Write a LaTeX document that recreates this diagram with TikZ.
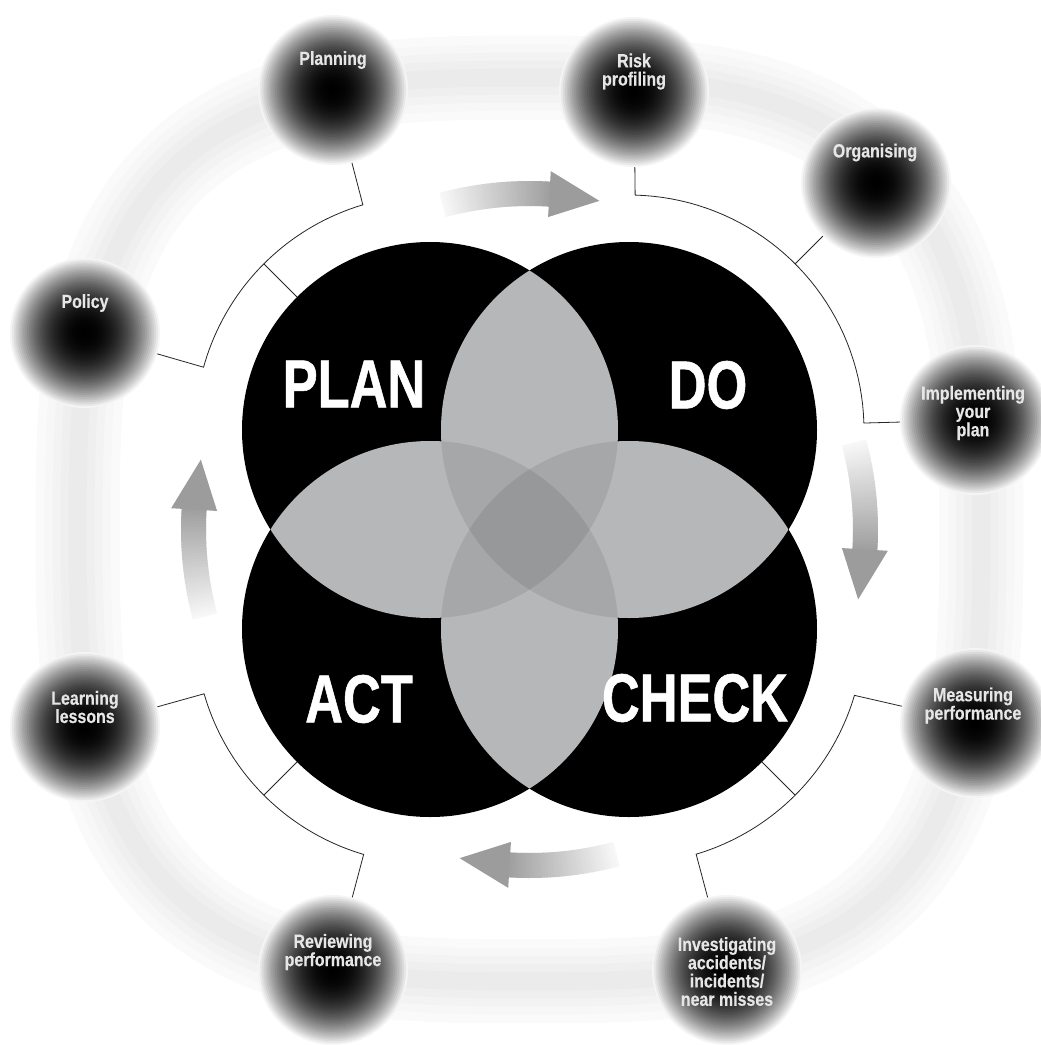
\documentclass[tikz,border=0pt]{standalone}
\usepackage{fontspec}
\usetikzlibrary{calc}
\newfontfamily\smallfont[FakeStretch=0.84,FakeBold=0.4]{Liberation Sans}
\newfontfamily\bigfont[FakeStretch=0.77,FakeBold=0.8]{Liberation Sans}
\definecolor{lensA}{HTML}{B6B7B9}
\definecolor{lensB}{HTML}{A6A7A9}
\definecolor{lensC}{HTML}{97989A}
\definecolor{arrowhd}{HTML}{9C9C9C}
\definecolor{labtxt}{HTML}{E6E6E6}
\newcommand\orbfill[1]{%
  \foreach \k in {40,39,...,1}{%
    \pgfmathsetmacro\orbr{75*\k/40}%
    \pgfmathsetmacro\orbd{100-96*pow(\k/40,2.2)}%
    \fill[black!\orbd] (#1) circle (\orbr);}}
\newcommand\cycarrow[1]{%
  \foreach \i in {0,...,36}{%
    \pgfmathsetmacro\arra{#1+\i*0.5}%
    \pgfmathsetmacro\arrb{#1+\i*0.5+0.65}%
    \pgfmathsetmacro\arrc{3+\i*0.95}%
    \draw[line width=25pt, black!\arrc] ($(cM)+(\arra:336)$) -- ($(cM)+(\arrb:336)$);}%
  \pgfmathsetmacro\arrh{#1+18.4}%
  \pgfmathsetmacro\arrt{#1+27}%
  \fill[arrowhd] ($(cM)+(\arrh:313)$) -- ($(cM)+(\arrt:336)$) -- ($(cM)+(\arrh:359)$) -- cycle;}
\begin{document}
\begin{tikzpicture}[x=1pt,y=-1pt,
  orbnode/.style={circle,minimum size=150pt,inner sep=0pt,draw=none},
  orblab/.style={text=labtxt,align=center,inner sep=0pt,
    font=\smallfont\bfseries\fontsize{19}{18.3}\selectfont},
  biglab/.style={text=white,inner sep=0pt,
    font=\bigfont\bfseries\fontsize{68}{68}\selectfont},
  conn/.style={draw=black!85,line width=0.8pt}]
\useasboundingbox (0,0) rectangle (1041,1045);
\fill[white] (0,0) rectangle (1041,1045);
\clip (0,0) rectangle (1041,1045);

% centres
\coordinate (cM) at (529.5,529.5);
\coordinate (cP) at (430,430);
\coordinate (cD) at (629,430);
\coordinate (cA) at (430,629);
\coordinate (cC) at (629,629);

% soft background band (superellipse)
\foreach \w/\c in {84/1.8,66/3.2,50/4.8,34/6.4,18/7.8}{
  \draw[line width=\w pt,black!\c] plot[domain=1.25:358.75,samples=144]
    ({529.5+452*cos(\x)/pow(abs(cos(\x)),1/3)},{529.5+452*sin(\x)/pow(abs(sin(\x)),1/3)}) -- cycle;
}

% spheres
\node[orbnode] (planning) at (333,90) {};
\node[orbnode] (risk) at (634,92) {};
\node[orbnode] (organising) at (876,183) {};
\node[orbnode] (implementing) at (975,420) {};
\node[orbnode] (measuring) at (975,723) {};
\node[orbnode] (investigating) at (727,970) {};
\node[orbnode] (reviewing) at (333,970) {};
\node[orbnode] (learning) at (85,727) {};
\node[orbnode] (policy) at (85,333) {};
\foreach \n in {planning,risk,organising,implementing,measuring,investigating,reviewing,learning,policy}{
  \orbfill{\n}
}

% sphere labels
\node[orblab] (planningT) at (333,60) {Planning};
\node[orblab] (riskT) at (634,71.5) {Risk\\profiling};
\node[orblab] (organisingT) at (875,152.5) {Organising};
\node[orblab] (implementingT) at (973,413) {Implementing\\your\\plan};
\node[orblab] (measuringT) at (973,705.5) {Measuring\\performance};
\node[orblab] (investigatingT) at (727,971.5) {Investigating\\accidents/\\incidents/\\near misses};
\node[orblab] (reviewingT) at (333,952) {Reviewing\\performance};
\node[orblab] (learningT) at (85,707) {Learning\\lessons};
\node[orblab] (policyT) at (85,303) {Policy};

% bracket connectors
\draw[conn] (policy) -- ($(cP)+(195.5:235)$)
  -- plot[domain=195.5:253.4,samples=40] ({430+235*cos(\x)},{430+235*sin(\x)})
  -- (planning);
\draw[conn] ($(cP)+(225:235)$) -- ($(cP)+(225:188)$);

\draw[conn] (risk) -- ($(cD)+(271.5:235)$)
  -- plot[domain=271.5:358.3,samples=40] ({629+235*cos(\x)},{430+235*sin(\x)})
  -- (implementing);
\draw[conn] ($(cD)+(315:235)$) -- (organising);

\draw[conn] (measuring) -- ($(cC)+(16.4:235)$)
  -- plot[domain=16.4:73.4,samples=40] ({629+235*cos(\x)},{629+235*sin(\x)})
  -- (investigating);
\draw[conn] ($(cC)+(45:235)$) -- ($(cC)+(45:188)$);

\draw[conn] (reviewing) -- ($(cA)+(106.4:235)$)
  -- plot[domain=106.4:164,samples=40] ({430+235*cos(\x)},{629+235*sin(\x)})
  -- (learning);
\draw[conn] ($(cA)+(135:235)$) -- ($(cA)+(135:188)$);

% cycle arrows
\cycarrow{255}
\cycarrow{345}
\cycarrow{75}
\cycarrow{165}

% big circles
\foreach \c in {cP,cD,cA,cC}{\fill[black] (\c) circle (188);}
% pairwise overlaps
\begin{scope}\clip (cP) circle (188);
  \fill[lensA] (cD) circle (188); \fill[lensA] (cA) circle (188); \fill[lensA] (cC) circle (188);
\end{scope}
\begin{scope}\clip (cD) circle (188);
  \fill[lensA] (cA) circle (188); \fill[lensA] (cC) circle (188);
\end{scope}
\begin{scope}\clip (cA) circle (188);
  \fill[lensA] (cC) circle (188);
\end{scope}
% triple overlaps
\begin{scope}\clip (cP) circle (188); \clip (cD) circle (188);
  \fill[lensB] (cA) circle (188); \fill[lensB] (cC) circle (188);
\end{scope}
\begin{scope}\clip (cA) circle (188); \clip (cC) circle (188);
  \fill[lensB] (cP) circle (188); \fill[lensB] (cD) circle (188);
\end{scope}
% quadruple overlap
\begin{scope}\clip (cP) circle (188); \clip (cD) circle (188); \clip (cA) circle (188);
  \fill[lensC] (cC) circle (188);
\end{scope}

% big labels
\node[biglab] (plan) at (354,384) {PLAN};
\node[biglab] (do) at (708,385) {DO};
\node[biglab] (act) at (359,699) {ACT};
\node[biglab] (check) at (695,698) {CHECK};
\end{tikzpicture}
\end{document}
